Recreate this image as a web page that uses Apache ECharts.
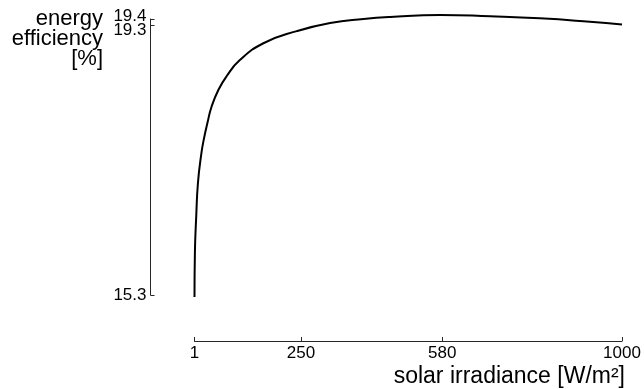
<!DOCTYPE html>
<html>
<head>
<meta charset="utf-8">
<script src="https://cdn.jsdelivr.net/npm/echarts@6/dist/echarts.min.js"></script>
<style>
  html, body { margin: 0; padding: 0; background: #fff; }
  #chart { width: 644px; height: 389px; }
</style>
</head>
<body>
<div id="chart"></div>
<script>
// values
var irradiance = [1, 2, 5, 9, 17, 23, 31, 41, 57, 76, 107, 162, 240, 318, 396, 458, 575, 692, 808, 925, 1000];
var efficiency = [15.27, 15.95, 16.46, 16.96, 17.40, 17.62, 17.85, 18.10, 18.35, 18.55, 18.79, 19.04, 19.22, 19.34, 19.40, 19.43, 19.46, 19.44, 19.41, 19.36, 19.32];
var xTicks = [1, 250, 580, 1000];
var yTicks = [15.3, 19.3, 19.4];
var yLabelsMain = [15.3, 19.4];
var yLabelsExtra = [19.3];

var FONT = '"Liberation Sans", Arial, sans-serif';

var chart = echarts.init(document.getElementById('chart'), null, { renderer: 'canvas' });

var points = irradiance.map(function (x, i) { return [x, efficiency[i]]; });

var option = {
  animation: false,
  backgroundColor: '#ffffff',
  grid: { left: 194.5, right: 22, top: 19, bottom: 94 },
  xAxis: {
    type: 'value',
    min: 1,
    max: 1000,
    offset: 46,
    axisLine: { lineStyle: { color: '#262626', width: 1 } },
    axisTick: { inside: true, length: 4, customValues: xTicks, lineStyle: { color: '#262626' } },
    axisLabel: {
      customValues: xTicks, showMinLabel: true, showMaxLabel: true, hideOverlap: false,
      color: '#000', fontSize: 17, fontFamily: FONT, margin: 4,
      formatter: function (v) { return String(v); }
    },
    splitLine: { show: false }
  },
  yAxis: [
    {
      type: 'value',
      min: 15.3,
      max: 19.4,
      offset: 44,
      position: 'left',
      axisLine: { show: true, lineStyle: { color: '#262626', width: 1 } },
      axisTick: { show: true, inside: true, length: 4, customValues: yTicks, lineStyle: { color: '#262626' } },
      axisLabel: {
        customValues: yLabelsMain, showMinLabel: true, showMaxLabel: true, hideOverlap: false,
        color: '#000', fontSize: 17, fontFamily: FONT, margin: 4,
        formatter: function (v) {
          if (Math.abs(v - 19.4) < 1e-6) return '{up|19.4}';
          return v.toFixed(1);
        },
        rich: {
          up: { fontSize: 17, fontFamily: FONT, color: '#000', padding: [0, 0, 6, 0] }
        }
      },
      splitLine: { show: false }
    },
    {
      // second copy of the same scale, only to carry the crowded 19.3 label
      type: 'value',
      min: 15.3,
      max: 19.4,
      offset: 44,
      position: 'left',
      axisLine: { show: false },
      axisTick: { show: false },
      axisLabel: {
        customValues: yLabelsExtra, showMinLabel: true, showMaxLabel: true, hideOverlap: false,
        color: '#000', fontSize: 17, fontFamily: FONT, margin: 4,
        formatter: function (v) { return '{dn|' + v.toFixed(1) + '}'; },
        rich: {
          dn: { fontSize: 17, fontFamily: FONT, color: '#000', padding: [10, 0, 0, 0] }
        }
      },
      splitLine: { show: false }
    }
  ],
  graphic: [
    {
      type: 'text',
      x: 103,
      y: 9,
      style: {
        text: 'energy\nefficiency\n[%]',
        fill: '#000',
        font: '22px ' + FONT,
        align: 'right',
        verticalAlign: 'top',
        lineHeight: 20
      }
    },
    {
      type: 'text',
      x: 625,
      y: 388,
      style: {
        text: 'solar irradiance [W/m²]',
        fill: '#000',
        font: '23px ' + FONT,
        align: 'right',
        verticalAlign: 'bottom'
      }
    }
  ],
  series: [{
    type: 'line',
    yAxisIndex: 0,
    data: points,
    smooth: 0.5,
    showSymbol: false,
    clip: false,
    lineStyle: { color: '#000', width: 2 }
  }]
};

chart.setOption(option);
</script>
</body>
</html>
